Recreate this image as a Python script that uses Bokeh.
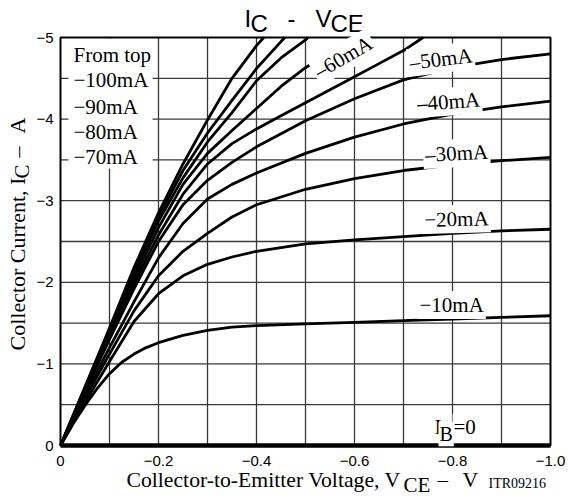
import math
from bokeh.plotting import figure
from bokeh.models import Range1d, Label
from bokeh.embed import file_html
from bokeh.resources import INLINE

# ---------------- data ----------------
x_limits = [0, -1.0]
y_limits = [0, -5.0]
x_ticks = [0, -0.2, -0.4, -0.6, -0.8, -1.0]
x_tick_labels = ["0", "\u22120.2", "\u22120.4", "\u22120.6", "\u22120.8", "\u22121.0"]
y_ticks = [0, -1, -2, -3, -4, -5]
y_tick_labels = ["0", "\u22121", "\u22122", "\u22123", "\u22124", "\u22125"]
x_grid = [-0.1, -0.2, -0.3, -0.4, -0.5, -0.6, -0.7, -0.8, -0.9]
y_grid = [-0.5, -1, -1.5, -2, -2.5, -3, -3.5, -4, -4.5]

v_0mA = [0, -1.0]
ic_0mA = [0, 0]
v_10mA = [0, -0.025, -0.05, -0.075, -0.1, -0.125, -0.15, -0.175, -0.2, -0.25, -0.3, -0.35, -0.4, -0.5, -0.6, -0.7, -0.8, -0.9, -1.0]
ic_10mA = [0, -0.26, -0.49, -0.7, -0.88, -1.02, -1.12, -1.2, -1.26, -1.35, -1.41, -1.45, -1.47, -1.49, -1.51, -1.53, -1.55, -1.57, -1.59]
v_20mA = [0, -0.05, -0.1, -0.15, -0.2, -0.25, -0.3, -0.35, -0.4, -0.5, -0.6, -0.7, -0.8, -0.9, -1.0]
ic_20mA = [0, -0.53, -1.03, -1.52, -1.86, -2.08, -2.22, -2.31, -2.38, -2.47, -2.52, -2.56, -2.6, -2.63, -2.65]
v_30mA = [0, -0.05, -0.1, -0.15, -0.2, -0.25, -0.3, -0.35, -0.4, -0.5, -0.6, -0.7, -0.8, -0.9, -1.0]
ic_30mA = [0, -0.58, -1.12, -1.65, -2.08, -2.38, -2.6, -2.8, -2.95, -3.14, -3.27, -3.37, -3.44, -3.49, -3.53]
v_40mA = [0, -0.05, -0.1, -0.15, -0.2, -0.25, -0.3, -0.35, -0.4, -0.5, -0.6, -0.7, -0.8, -0.9, -1.0]
ic_40mA = [0, -0.62, -1.2, -1.76, -2.3, -2.72, -3.02, -3.2, -3.34, -3.58, -3.78, -3.94, -4.06, -4.15, -4.22]
v_50mA = [0, -0.05, -0.1, -0.15, -0.2, -0.25, -0.3, -0.35, -0.4, -0.5, -0.6, -0.7, -0.8, -0.9, -1.0]
ic_50mA = [0, -0.66, -1.3, -1.92, -2.5, -2.95, -3.25, -3.47, -3.66, -3.98, -4.25, -4.48, -4.63, -4.73, -4.8]
v_60mA = [0, -0.05, -0.1, -0.15, -0.2, -0.25, -0.3, -0.35, -0.4, -0.45, -0.5, -0.55, -0.6, -0.65, -0.7, -0.74]
ic_60mA = [0, -0.68, -1.34, -1.98, -2.58, -3.08, -3.45, -3.7, -3.88, -4.04, -4.2, -4.36, -4.52, -4.68, -4.84, -5.0]
v_70mA = [0, -0.05, -0.1, -0.15, -0.2, -0.25, -0.3, -0.35, -0.4, -0.45, -0.5, -0.55, -0.6, -0.607]
ic_70mA = [0, -0.69, -1.37, -2.04, -2.67, -3.2, -3.58, -3.86, -4.13, -4.4, -4.63, -4.82, -4.98, -5.0]
v_80mA = [0, -0.05, -0.1, -0.15, -0.2, -0.25, -0.3, -0.35, -0.4, -0.45, -0.5, -0.505]
ic_80mA = [0, -0.70, -1.40, -2.1, -2.75, -3.28, -3.72, -4.08, -4.47, -4.75, -4.97, -5.0]
v_90mA = [0, -0.05, -0.1, -0.15, -0.2, -0.25, -0.3, -0.35, -0.4, -0.45, -0.458]
ic_90mA = [0, -0.71, -1.42, -2.14, -2.8, -3.37, -3.83, -4.23, -4.62, -4.95, -5.0]
v_100mA = [0, -0.05, -0.1, -0.15, -0.2, -0.25, -0.3, -0.35, -0.4, -0.415]
ic_100mA = [0, -0.72, -1.44, -2.18, -2.85, -3.45, -3.99, -4.5, -4.9, -5.0]

curves = [
    (v_10mA, ic_10mA), (v_20mA, ic_20mA), (v_30mA, ic_30mA), (v_40mA, ic_40mA),
    (v_50mA, ic_50mA), (v_60mA, ic_60mA), (v_70mA, ic_70mA), (v_80mA, ic_80mA),
    (v_90mA, ic_90mA), (v_100mA, ic_100mA),
]

# ---------------- layout: canvas pixel -> data ----------------
W, H = 568, 499
PX0, PX1 = 60.0, 550.0   # chart box in pixels
PY0, PY1 = 445.0, 37.0

def dx(px):
    return x_limits[0] + (px - PX0) / (PX1 - PX0) * (x_limits[1] - x_limits[0])

def dy(py):
    return y_limits[0] + (PY0 - py) / (PY0 - PY1) * (y_limits[1] - y_limits[0])

SERIF = "Liberation Serif"
SANS = "Liberation Sans"

p = figure(width=W, height=H, output_backend="svg", toolbar_location=None,
           x_range=Range1d(dx(0), dx(W)), y_range=Range1d(dy(H), dy(0)),
           x_axis_location=None, y_axis_location=None, min_border=0)
p.outline_line_color = None
p.background_fill_color = "white"
p.border_fill_color = "white"
p.grid.visible = False

n_x, n_y = len(x_grid), len(y_grid)
p.segment(x0=x_grid, x1=x_grid, y0=[y_limits[0]] * n_x, y1=[y_limits[1]] * n_x,
          line_color="#3a3a3a", line_width=1.3)
p.segment(x0=[x_limits[0]] * n_y, x1=[x_limits[1]] * n_y, y0=y_grid, y1=y_grid,
          line_color="#3a3a3a", line_width=1.3)

# white box behind the "From top" legend text
p.quad(left=[dx(68)], right=[dx(152)], top=[dy(38)], bottom=[dy(168)],
       fill_color="white", line_color=None)

p.line(v_0mA, ic_0mA, line_color="black", line_width=4.5)
for xs, ys in curves:
    p.line(xs, ys, line_color="black", line_width=2.8, line_join="round")

p.quad(left=[x_limits[0]], right=[x_limits[1]], top=[y_limits[1]], bottom=[y_limits[0]],
       fill_color=None, line_color="black", line_width=2)

p.text(x=x_ticks, y=[y_limits[0]] * len(x_ticks), text=x_tick_labels,
       text_font={"value": SANS}, text_font_size={"value": "15px"}, text_color="black",
       text_align="center", text_baseline="middle", y_offset=15)
p.text(x=[x_limits[0]] * len(y_ticks), y=y_ticks, text=y_tick_labels,
       text_font={"value": SANS}, text_font_size={"value": "15px"}, text_color="black",
       text_align="right", text_baseline="middle", x_offset=-7)


def lab(px, py, text, size=21, font=SERIF, angle=0, bg=False, pad=0):
    # (px, py) is the wanted left end of the text baseline, in canvas pixels
    s = 0.31 * size
    a = math.radians(angle)
    ax_ = px - s * math.sin(a)
    ay_ = py - s * math.cos(a)
    kw = dict(x=dx(ax_), y=dy(ay_), text=text, text_font=font, text_font_size=f"{size}px",
              text_color="black", text_align="left", text_baseline="alphabetic",
              angle=angle, angle_units="deg")
    if bg:
        kw.update(background_fill_color="white", background_fill_alpha=1.0, padding=pad)
    p.add_layout(Label(**kw))


# title
lab(244, 25, "I", 24, SANS)
lab(250, 30, "C", 24, SANS)
lab(287, 25, "-", 24, SANS)
lab(315, 25, "V", 24, SANS)
lab(330, 30, "CE", 24, SANS)

# y axis title (rotated)
lab(24, 350, "Collector Current, I", 22, SERIF, angle=90)
lab(28, 178, "C", 21, SERIF, angle=90)
lab(24, 157, "\u2013", 22, SERIF, angle=90)
lab(24, 133, "A", 22, SERIF, angle=90)

# x axis title
lab(126, 486, "Collector-to-Emitter Voltage, V", 21.7, SERIF)
lab(403, 491, "CE", 21, SERIF)
lab(437, 486, "\u2013", 21, SERIF)
lab(462, 486, "V", 21.7, SERIF)
lab(488, 487, "ITR09216", 14, SERIF)

# legend block
lab(73, 61, "From top")
lab(73, 86, "\u2212100mA")
lab(73, 113, "\u221290mA")
lab(73, 138, "\u221280mA")
lab(73, 163, "\u221270mA")

# curve labels
lab(317, 79, "\u201360mA", angle=30, bg=True, pad=2)
lab(408, 69, "\u201350mA", angle=7, bg=True, pad=2)
lab(415, 110, "\u201340mA", angle=4, bg=True, pad=2)
lab(423, 161, "\u201330mA", angle=3, bg=True, pad=2)
lab(422, 226, "\u221220mA", angle=1.5, bg=True, pad=2)
lab(417, 311, "\u221210mA", angle=0, bg=True, pad=2)
lab(433, 433, "I", bg=True, pad=1)
lab(438, 440, "B", 20, bg=True, pad=1)
lab(452, 433, "=0", bg=True, pad=1)

open("out.html", "w").write(file_html(p, INLINE))
